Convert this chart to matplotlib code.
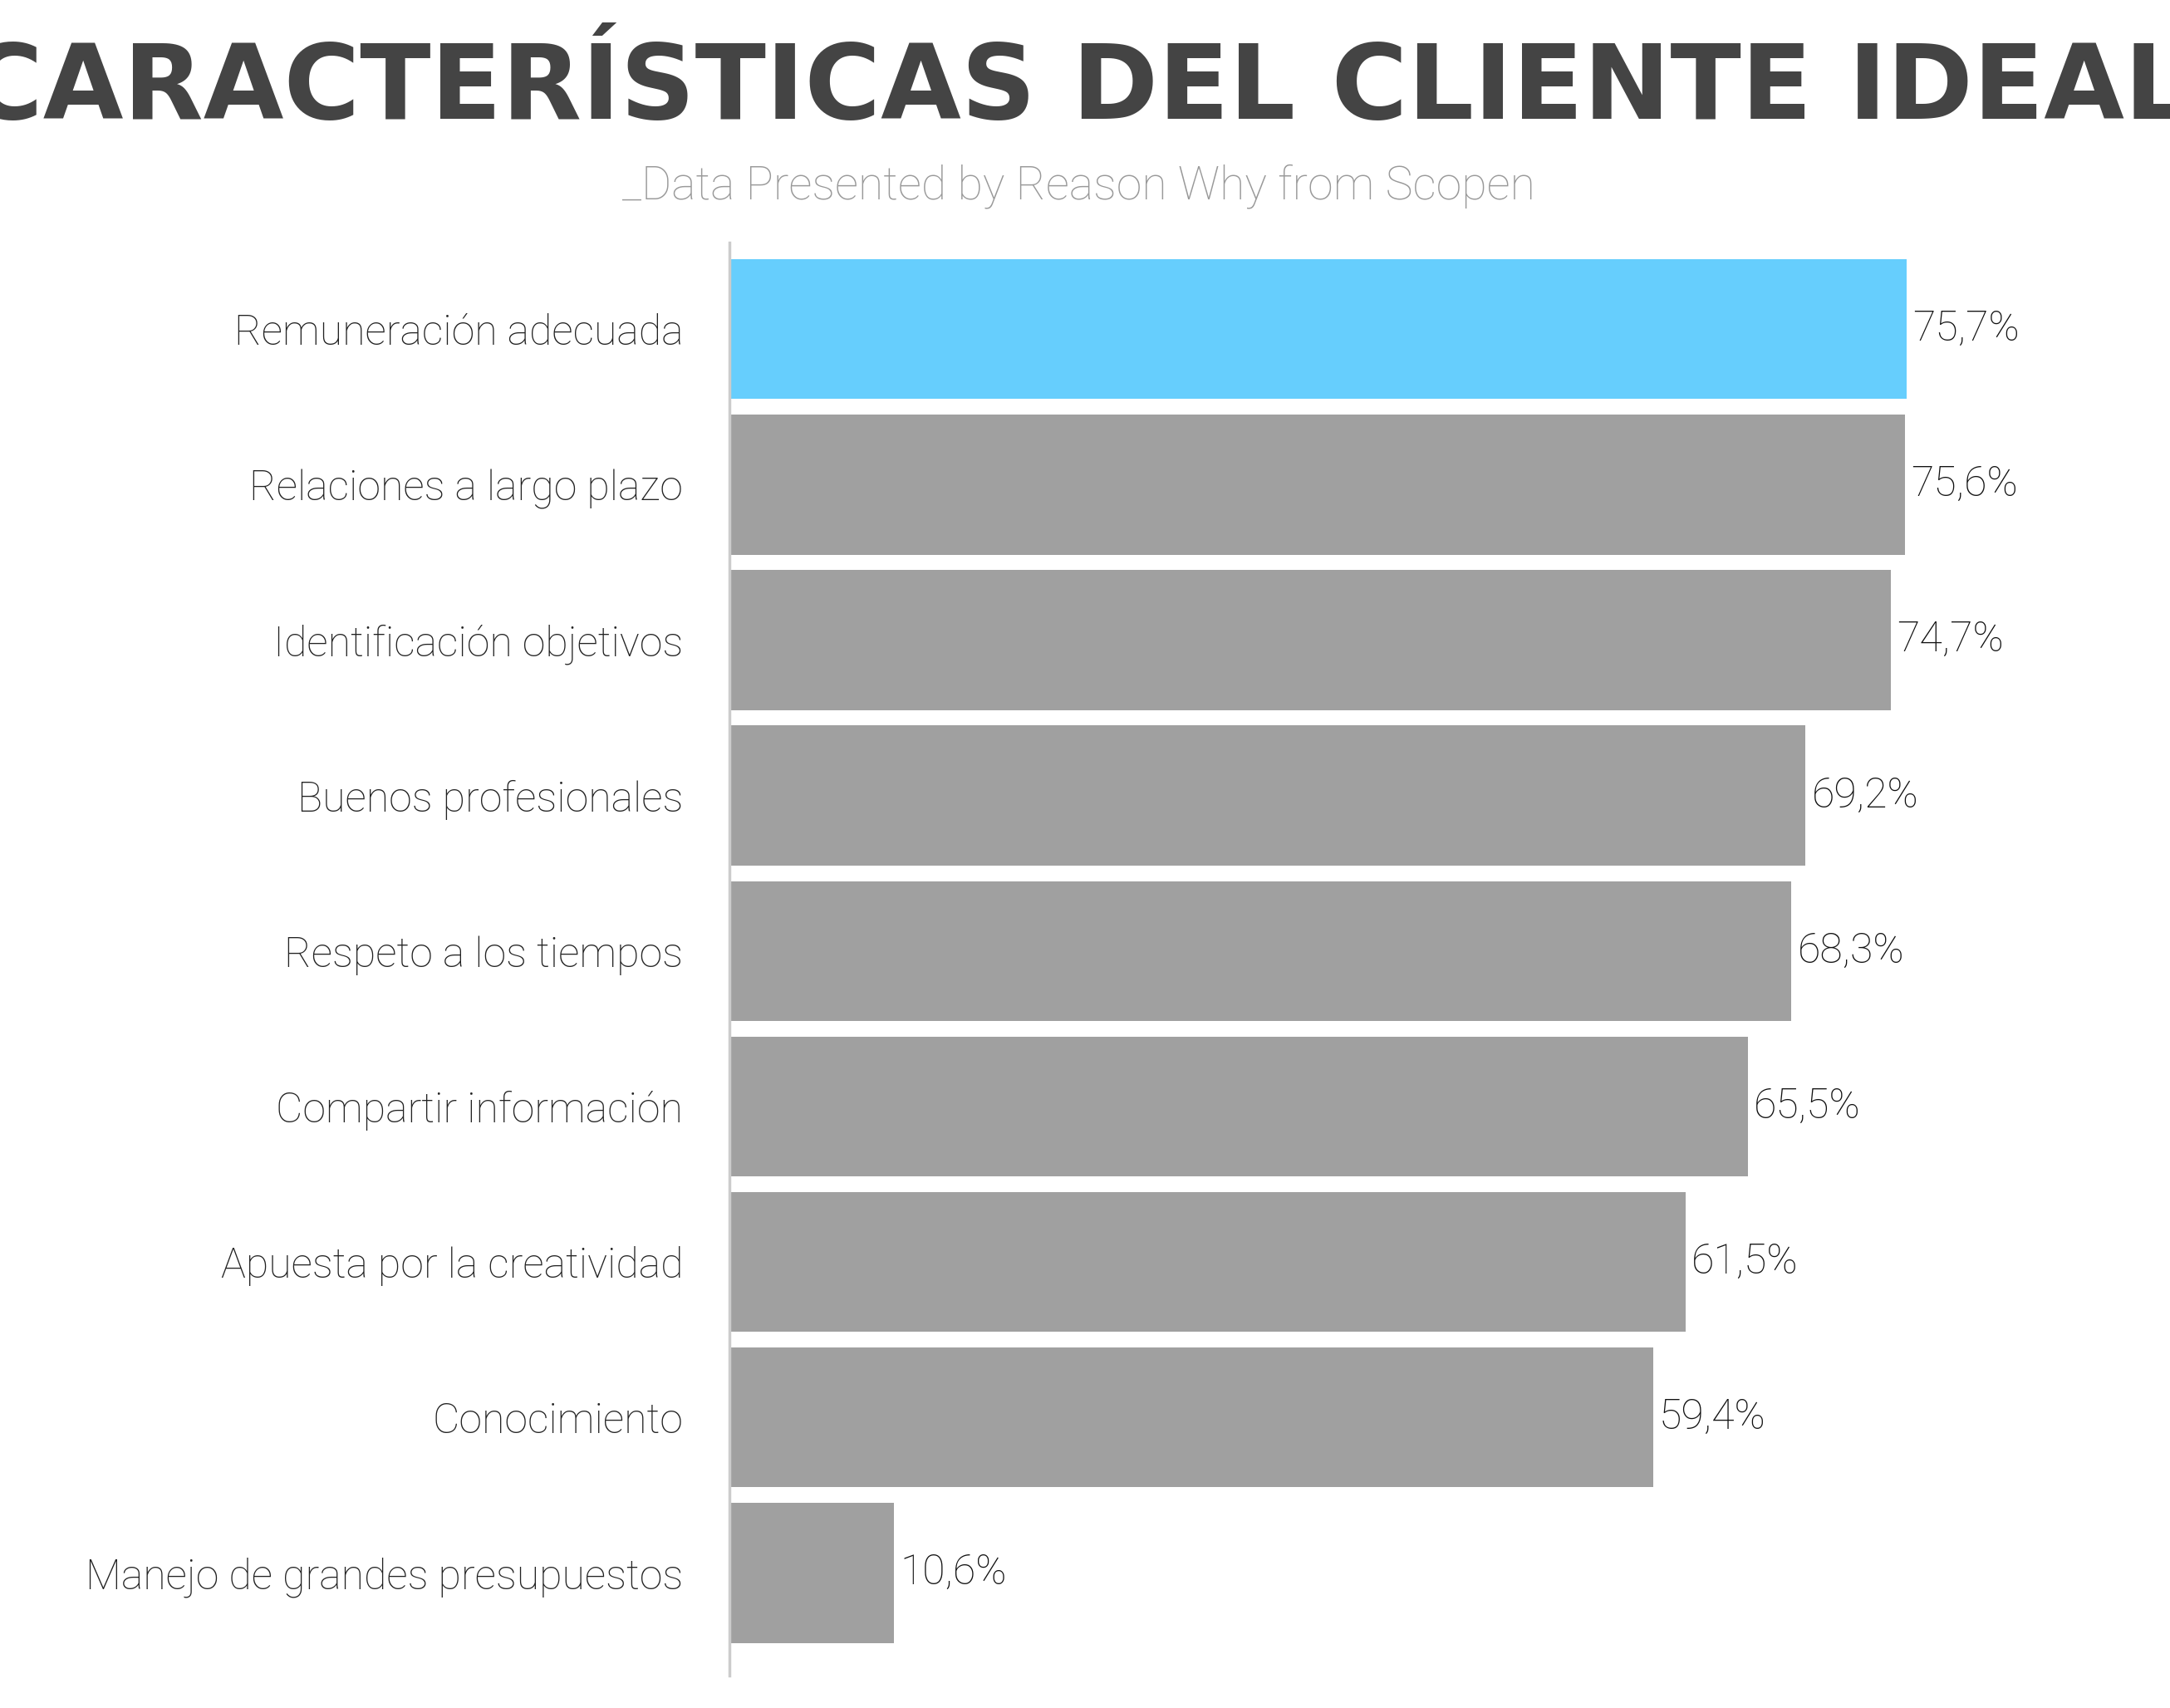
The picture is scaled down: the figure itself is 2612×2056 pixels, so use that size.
import matplotlib
matplotlib.use('Agg')
from matplotlib import pyplot as plt

categories = ['Remuneración adecuada', 'Relaciones a largo plazo', 'Identificación objetivos',
              'Buenos profesionales', 'Respeto a los tiempos', 'Compartir información',
              'Apuesta por la creatividad', 'Conocimiento', 'Manejo de grandes presupuestos']
values = [75.7, 75.6, 74.7, 69.2, 68.3, 65.5, 61.5, 59.4, 10.6]
labels = ['75,7%', '75,6%', '74,7%', '69,2%', '68,3%', '65,5%', '61,5%', '59,4%', '10,6%']
colors = ['#66cefd'] + ['#a0a0a0'] * 8

fig = plt.figure(figsize=(26.12, 20.56), dpi=100)
ax = fig.add_axes([0.336, 0.019, 0.645, 0.839])

pos = list(range(len(values)))
ax.barh(pos, values, height=0.9, color=colors)
for p, v, l in zip(pos, values, labels):
    ax.text(v + 0.4, p, l, va='center', ha='left', fontsize=36, family='Roboto',
            weight='light', color='#111111')

ax.set_xlim(0, 90)
ax.set_ylim(8.66, -0.557)
ax.set_yticks(pos)
ax.set_yticklabels(categories, fontsize=36, family='Roboto', weight='light', color='#222222')
ax.tick_params(axis='y', length=0, pad=40)
ax.set_xticks([])
for s in ['top', 'right', 'bottom']:
    ax.spines[s].set_visible(False)
ax.spines['left'].set_color('#cccccc')
ax.spines['left'].set_linewidth(2.5)

fig.text(0.497, 0.947, 'CARACTERÍSTICAS DEL CLIENTE IDEAL', ha='center', va='center',
         fontsize=90, weight='bold', family='Liberation Sans Narrow', color='#444444')
fig.text(0.497, 0.891, '_Data Presented by Reason Why from Scopen', ha='center', va='center',
         fontsize=40, family='Roboto', weight='light', color='#999999')

fig.savefig('out.png')
